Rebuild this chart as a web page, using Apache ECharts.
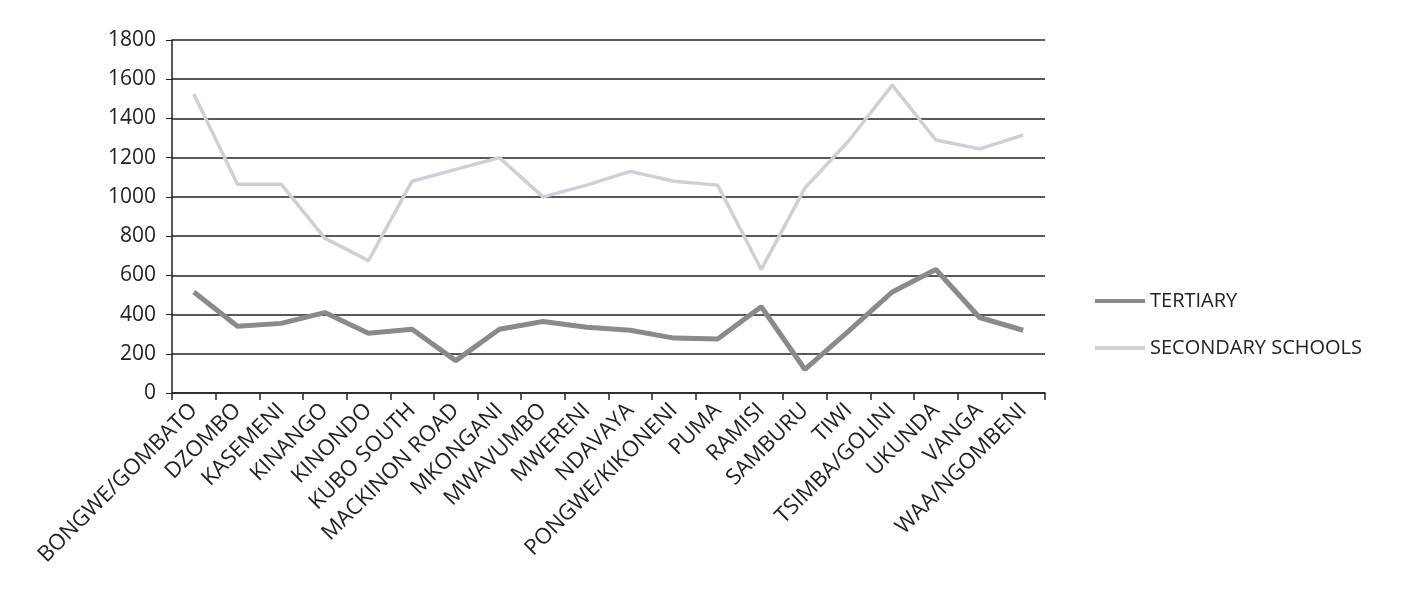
<!DOCTYPE html>
<html><head><meta charset="utf-8">
<script src="https://cdn.jsdelivr.net/npm/echarts@6/dist/echarts.min.js"></script>
<style>html,body{margin:0;padding:0;background:#fff}#c{width:1405px;height:603px}</style>
</head><body><div id="c"></div>
<script>
const categories = ["BONGWE/GOMBATO","DZOMBO","KASEMENI","KINANGO","KINONDO","KUBO SOUTH","MACKINON ROAD","MKONGANI","MWAVUMBO","MWERENI","NDAVAYA","PONGWE/KIKONENI","PUMA","RAMISI","SAMBURU","TIWI","TSIMBA/GOLINI","UKUNDA","VANGA","WAA/NGOMBENI"];
const tertiary = [515,340,355,410,305,325,165,325,365,335,320,280,275,440,120,315,515,630,385,320];
const secondary = [1525,1065,1065,790,675,1080,1140,1200,1000,1060,1130,1080,1060,630,1045,1285,1570,1290,1245,1315];
const yTicks = [0,200,400,600,800,1000,1200,1400,1600,1800];

const chart = echarts.init(document.getElementById('c'));
const font = "'Open Sans', 'Liberation Sans', sans-serif";
chart.setOption({
  animation:false,
  backgroundColor:'#fff',
  grid:{left:172,right:360,top:40,bottom:210},
  legend:{
    orient:'vertical', left:1090, top:286, itemGap:27,
    icon:'rect', itemWidth:50, itemHeight:4, itemTextGap:4,
    textStyle:{fontFamily:font,fontSize:20,color:'#222'},
    data:['TERTIARY','SECONDARY SCHOOLS']
  },
  xAxis:{
    type:'category', data:categories, boundaryGap:true,
    axisLine:{lineStyle:{color:'#222',width:1.5}},
    axisTick:{show:true,length:7,lineStyle:{color:'#222',width:1.5}},
    axisLabel:{rotate:45,interval:0,fontFamily:font,fontSize:22,color:'#222',margin:14}
  },
  yAxis:{
    type:'value', min:yTicks[0], max:yTicks[yTicks.length-1], interval:200,
    axisLine:{show:true,lineStyle:{color:'#222',width:1.5}},
    axisTick:{show:true,length:6,lineStyle:{color:'#222'}},
    axisLabel:{fontFamily:font,fontSize:21,color:'#222',margin:16,formatter:v=>String(v)},
    splitLine:{lineStyle:{color:'#222',width:1.5}}
  },
  series:[
    {name:'TERTIARY',type:'line',data:tertiary,symbol:'none',
     lineStyle:{color:'#8a8a8a',width:5},itemStyle:{color:'#8a8a8a'}},
    {name:'SECONDARY SCHOOLS',type:'line',data:secondary,symbol:'none',
     lineStyle:{color:'#cfcfd6',width:3.5},itemStyle:{color:'#cfcfd6'}}
  ]
});
</script></body></html>
